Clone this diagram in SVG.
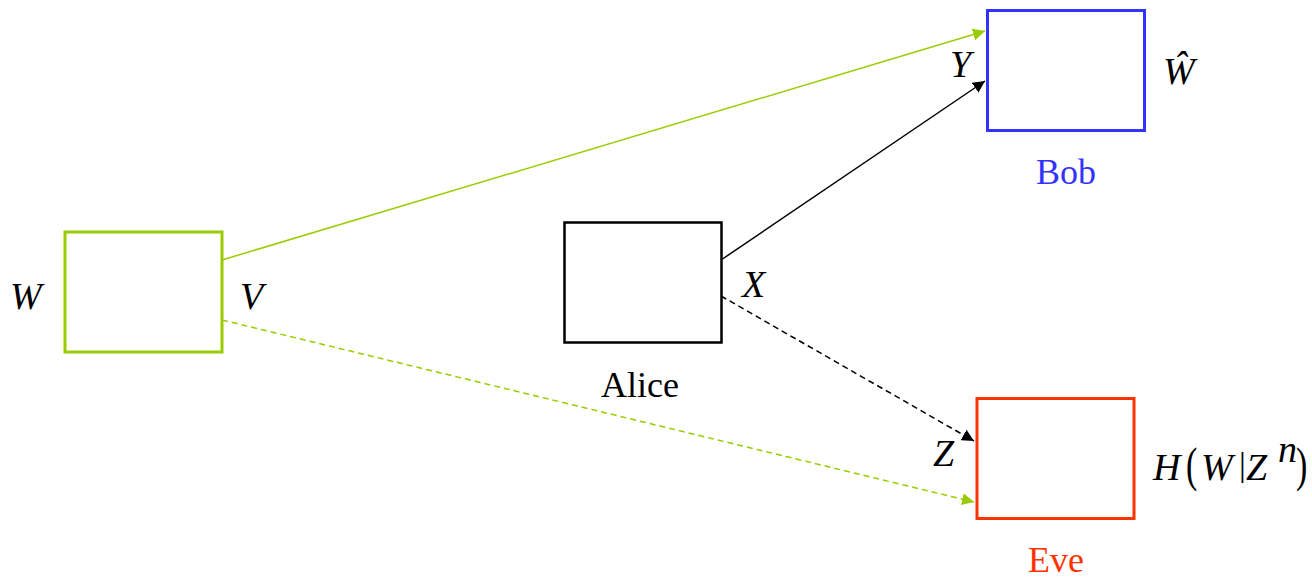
<svg xmlns="http://www.w3.org/2000/svg" width="1312" height="577" viewBox="0 0 1312 577">
<defs>
<style>
.m{font-family:"Liberation Serif","Times New Roman",serif;font-style:italic;font-size:38px;fill:#000}
.t{font-family:"Liberation Serif","Times New Roman",serif;font-size:36px}
.p{font-family:"Liberation Serif","Times New Roman",serif;font-size:34px}
.box{fill:none}
</style>
<marker id="ab" viewBox="0 0 10 10" refX="10" refY="5" markerWidth="12" markerHeight="12" markerUnits="userSpaceOnUse" orient="auto"><path d="M0,0 L10,5 L0,10 Z" fill="#000"/></marker>
<marker id="ag" viewBox="0 0 10 10" refX="10" refY="5" markerWidth="12" markerHeight="12" markerUnits="userSpaceOnUse" orient="auto"><path d="M0,0 L10,5 L0,10 Z" fill="#99cc00"/></marker>
</defs>
<rect width="1312" height="577" fill="#fff"/>
<g id="connectors">
<line x1="222" y1="260" x2="985" y2="31" stroke="#99cc00" stroke-width="1.5" marker-end="url(#ag)"/>
<line x1="222" y1="320" x2="974" y2="502" stroke="#99cc00" stroke-width="1.5" stroke-dasharray="6,4" marker-end="url(#ag)"/>
<line x1="721" y1="260" x2="985" y2="81" stroke="#000" stroke-width="1.5" marker-end="url(#ab)"/>
<line x1="721" y1="296" x2="974" y2="441" stroke="#000" stroke-width="1.5" stroke-dasharray="6,4" marker-end="url(#ab)"/>
</g>
<g id="source">
<rect class="box" x="65" y="232" width="157" height="120" stroke="#99cc00" stroke-width="3"/>
<text class="m" x="10" y="309">W</text>
<text class="m" x="240" y="309">V</text>
</g>
<g id="alice">
<rect class="box" x="564.5" y="222.5" width="157" height="120" stroke="#000" stroke-width="2.5"/>
<text class="t" x="640" y="397" text-anchor="middle">Alice</text>
<text class="m" x="742" y="297">X</text>
</g>
<g id="bob">
<rect class="box" x="987.5" y="10.5" width="157" height="120" stroke="#3333ff" stroke-width="3"/>
<text class="t" x="1066" y="184" text-anchor="middle" fill="#3333ff">Bob</text>
<text class="m" x="950" y="77">Y</text>
<text class="m" x="1163" y="84">Ŵ</text>
</g>
<g id="eve">
<rect class="box" x="977" y="398.5" width="157" height="120" stroke="#ff3300" stroke-width="3"/>
<text class="t" x="1056" y="572" text-anchor="middle" fill="#ff3300">Eve</text>
<text class="m" x="933" y="466">Z</text>
<text class="m" x="1153" y="480">H</text>
<text class="p" transform="translate(1186,481) scale(1,1.45)">(</text>
<text class="m" x="1201" y="480">W</text>
<text class="p" x="1239" y="476" font-size="18">|</text>
<text class="m" x="1246" y="480">Z</text>
<text class="m" x="1278" y="462" font-size="17">n</text>
<text class="p" transform="translate(1296,481) scale(1,1.45)">)</text>
</g>
</svg>
